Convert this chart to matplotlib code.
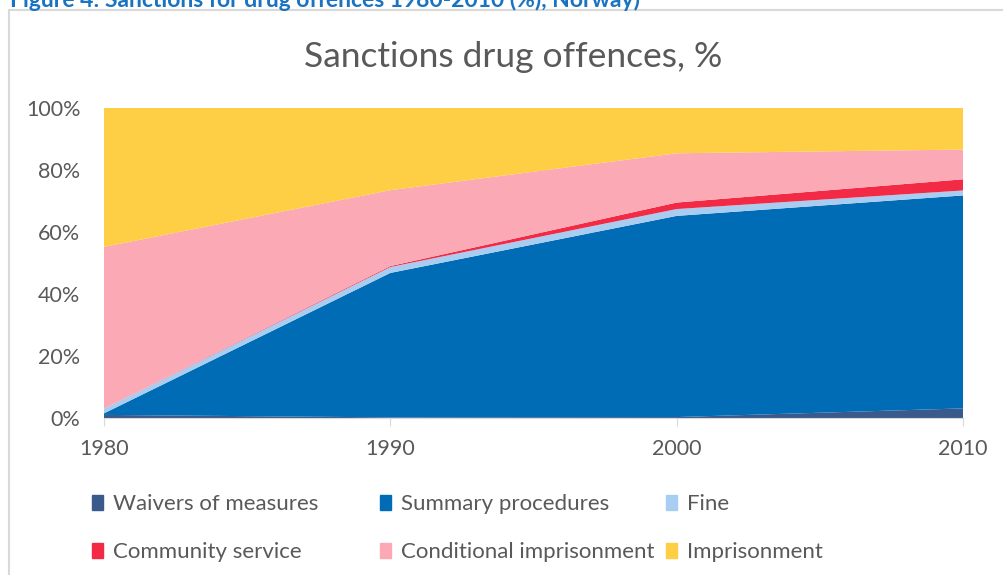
import matplotlib.pyplot as plt
import matplotlib.patches as mpatches
import matplotlib.ticker as ticker

plt.rcParams['font.family'] = ['Lato', 'DejaVu Sans']

years = [1980, 1990, 2000, 2010]

# shares of sanctions, percent
waivers = [1.0, 0.2, 0.3, 3.1]
summary = [0.5, 46.6, 64.9, 68.7]
fine = [1.5, 1.9, 2.2, 1.6]
community = [0.0, 0.3, 2.1, 3.6]
conditional = [52.2, 24.5, 15.9, 9.6]
imprisonment = [44.8, 26.5, 14.6, 13.4]

series = [waivers, summary, fine, community, conditional, imprisonment]
labels = ["Waivers of measures", "Summary procedures", "Fine",
          "Community service", "Conditional imprisonment", "Imprisonment"]
colors = ["#3a5a8c", "#006cb5", "#a9cdf0", "#f22a46", "#fba9b4", "#fecf44"]

TEXT = "#595959"
W, H = 1004, 575

fig = plt.figure(figsize=(W / 100, H / 100), dpi=100)

# outer chart frame
fig.patches.append(mpatches.Rectangle((9 / W, -0.1), 1.0, 1 - 10 / H + 0.1,
                                      transform=fig.transFigure, fill=False,
                                      edgecolor="#d9d9d9", linewidth=1.5))
fig.text(10 / W, 1 - 7 / H, "Figure 4: Sanctions for drug offences 1980-2010 (%), Norway)",
         color="#1a73c1", fontsize=16.5, fontweight="bold", va="baseline", ha="left")

ax = fig.add_axes([104 / W, 1 - 418 / H, (963 - 104) / W, (418 - 108) / H])
ax.stackplot(years, *[[v / 100 for v in s] for s in series], colors=colors,
             labels=labels, linewidth=0)

ax.set_xlim(1980, 2010)
ax.set_ylim(0, 1.0)
ax.set_xticks(years)
ax.yaxis.set_major_locator(ticker.MultipleLocator(0.2))
ax.yaxis.set_major_formatter(ticker.PercentFormatter(1.0, decimals=0))
ax.grid(axis="y", color="#d9d9d9", linewidth=1)
ax.set_axisbelow(True)
for side in ["top", "right", "left"]:
    ax.spines[side].set_visible(False)
ax.spines["bottom"].set_color("#d9d9d9")
ax.tick_params(axis="y", length=0, labelsize=15.5, labelcolor=TEXT, pad=17)
ax.tick_params(axis="x", length=6, color="#d9d9d9", labelsize=15.5,
               labelcolor=TEXT, pad=9)

fig.text(513 / W, 1 - 57 / H, "Sanctions drug offences, %",
         fontsize=25.5, color=TEXT, ha="center", va="center")

# legend laid out in three fixed columns, two rows each
handles = [mpatches.Patch(color=c) for c in colors]
col_x = [92, 380, 666]
for col in range(3):
    idx = [col, col + 3]
    fig.legend([handles[i] for i in idx], [labels[i] for i in idx],
               loc="center left", bbox_to_anchor=(col_x[col] / W, 1 - 528 / H),
               frameon=False, fontsize=16, labelcolor=TEXT, handlelength=0.5,
               handleheight=0.65, handletextpad=0.45, labelspacing=1.25,
               borderaxespad=0, borderpad=0)

fig.savefig("out.png", dpi=100)
